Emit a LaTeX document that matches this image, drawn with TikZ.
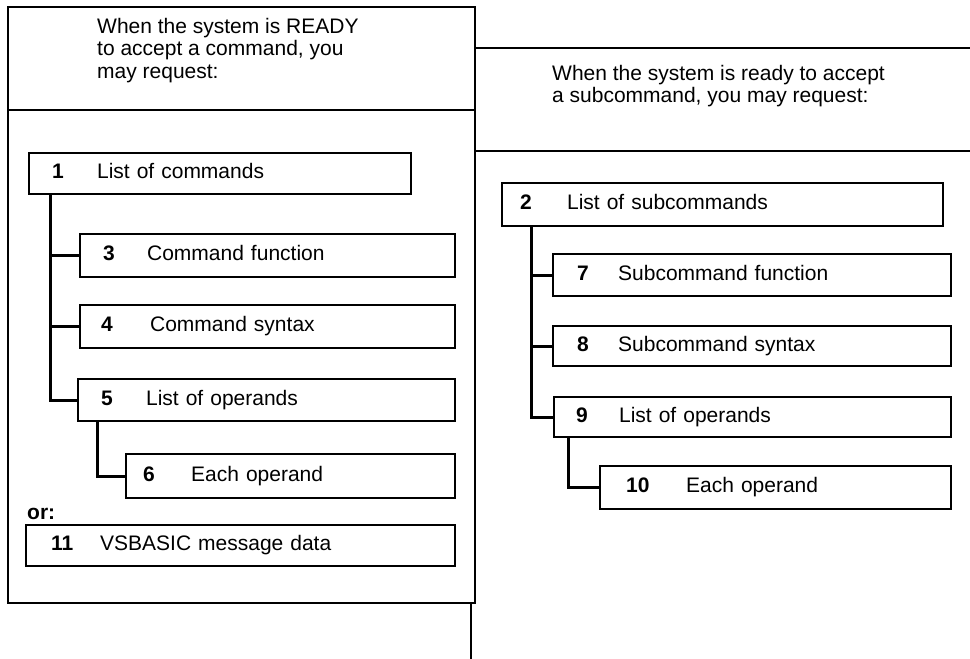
\documentclass[tikz,border=0pt]{standalone}
\usepackage{fontspec}
\setmainfont{Liberation Sans}
\newcommand{\entrytext}[4]{\hspace*{#1}\makebox[#2][l]{\bfseries #3}#4}
\begin{document}
\begin{tikzpicture}[x=1pt,y=-1pt,
  panel/.style={line width=1.7pt},
  header/.style={anchor=north west,inner sep=0pt,align=left,font=\fontsize{21}{22.5}\selectfont},
  entry/.style={draw,line width=2.3pt,anchor=north west,inner xsep=0pt,inner ysep=0pt,
    align=left,text height=15pt,text depth=5pt,font=\fontsize{21}{22}\selectfont},
  conn/.style={line width=3pt}]
\useasboundingbox (0,0) rectangle (970,659);

% panels
\draw[panel] (8,7) rectangle (475,603);
\draw[panel] (8,110) -- (475,110);
\draw[panel] (475,48) -- (970,48);
\draw[panel] (475,151) -- (970,151);
\draw[panel] (471,603) -- (471,659);

\node[header] (readyhead) at (97,18) {When the system is READY\\to accept a command, you\\may request:};
\node[header] (subhead) at (552,65) {When the system is ready to accept\\a subcommand, you may request:};

% command side
\node[entry,text width=382pt,minimum height=41pt] (b1) at (28,152) {\entrytext{23pt}{45pt}{1}{List of commands}};
\node[entry,text width=375pt,minimum height=43pt] (b3) at (79,233) {\entrytext{23pt}{44pt}{3}{Command function}};
\node[entry,text width=375pt,minimum height=43pt] (b4) at (79,304) {\entrytext{21pt}{49pt}{4}{Command syntax}};
\node[entry,text width=377pt,minimum height=42pt] (b5) at (77,378) {\entrytext{23pt}{45pt}{5}{List of operands}};
\node[entry,text width=329pt,minimum height=44pt] (b6) at (125,453) {\entrytext{17pt}{48pt}{6}{Each operand}};
\node[anchor=base west,inner sep=0pt,font=\fontsize{21}{22}\selectfont\bfseries] (orlabel) at (27,519) {or:};
\node[entry,text width=429pt,minimum height=41pt] (b11) at (25,524) {\entrytext{25pt}{49pt}{11}{VSBASIC message data}};

\draw[conn] ([xshift=22pt]b1.south west) |- (b3.west);
\draw[conn] ([xshift=22pt]b1.south west) |- (b4.west);
\draw[conn] ([xshift=22pt]b1.south west) |- (b5.west);
\draw[conn] ([xshift=20pt]b5.south west) |- (b6.west);

% subcommand side
\node[entry,text width=441pt,minimum height=43pt] (b2) at (501,182) {\entrytext{18pt}{47pt}{2}{List of subcommands}};
\node[entry,text width=398pt,minimum height=42pt] (b7) at (552,253) {\entrytext{24pt}{41pt}{7}{Subcommand function}};
\node[entry,text width=398pt,minimum height=40pt] (b8) at (552,325) {\entrytext{24pt}{41pt}{8}{Subcommand syntax}};
\node[entry,text width=397pt,minimum height=40pt] (b9) at (553,396) {\entrytext{22pt}{43pt}{9}{List of operands}};
\node[entry,text width=351pt,minimum height=43pt] (b10) at (599,465) {\entrytext{26pt}{60pt}{10}{Each operand}};

\draw[conn] ([xshift=30pt]b2.south west) |- (b7.west);
\draw[conn] ([xshift=30pt]b2.south west) |- (b8.west);
\draw[conn] ([xshift=30pt]b2.south west) |- (b9.west);
\draw[conn] ([xshift=15pt]b9.south west) |- (b10.west);
\end{tikzpicture}
\end{document}
